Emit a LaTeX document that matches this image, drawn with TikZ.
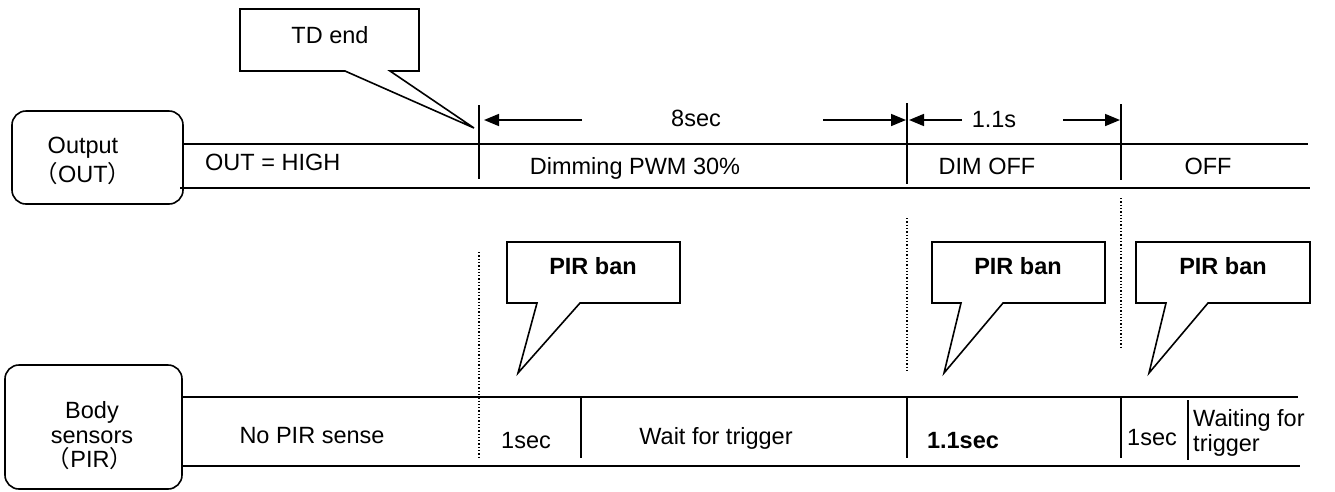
\documentclass[tikz,border=0pt]{standalone}
\usepackage{fontspec}
\setmainfont{Liberation Sans}
\newfontfamily\cjk{Noto Sans CJK SC}
\usetikzlibrary{arrows.meta}
\begin{document}
\begin{tikzpicture}[x=1pt,y=-1pt,
  wire/.style={line width=1.6pt},
  guide/.style={line width=1.3pt, dotted},
  dimarrow/.style={line width=1.6pt, -{Triangle[length=15pt,width=12pt]}},
  lbl/.style={inner sep=0pt, anchor=base, font=\fontsize{23.5}{27}\selectfont},
  lblw/.style={lbl, anchor=base west},
  boldlbl/.style={lbl, font=\fontsize{23.5}{27}\selectfont\bfseries},
  callout/.style={line width=1.6pt, fill=white, line join=miter},
  sigbox/.style={draw, line width=1.6pt, rounded corners=14pt, inner sep=0pt}
]
\useasboundingbox (0,0) rectangle (1335,491);

% ---------- signal name boxes ----------
\node[sigbox, minimum width=171pt, minimum height=93pt] (outbox) at (97.5,157.5) {};
\node[lbl] (outA) at (83,153) {Output};
\node[lbl] (outB) at (83,182) {{\cjk （}OUT{\cjk ）}};

\node[sigbox, minimum width=177pt, minimum height=124pt] (pirbox) at (93.5,427) {};
\node[lbl] (pirA) at (92,418) {Body};
\node[lbl] (pirB) at (92,443) {sensors};
\node[lbl] (pirC) at (90,467) {{\cjk （}PIR{\cjk ）}};

% ---------- output row ----------
\coordinate (oT0) at (183,144);  \coordinate (oT1) at (1308,144);
\coordinate (oB0) at (180,188);  \coordinate (oB1) at (1310,188);
\draw[wire] (oT0) -- (oT1);
\draw[wire] (oB0) -- (oB1);

\coordinate (t1a) at (479,105);  \coordinate (t1b) at (479,179);
\coordinate (t2a) at (907,103);  \coordinate (t2b) at (907,184);
\coordinate (t3a) at (1121,104); \coordinate (t3b) at (1121,180);
\draw[wire] (t1a) -- (t1b);
\draw[wire] (t2a) -- (t2b);
\draw[wire] (t3a) -- (t3b);

\node[lblw] (high) at (205,170) {OUT = HIGH};
\node[lbl] (pwm) at (635,174) {Dimming PWM 30\%};
\node[lbl] (dimoff) at (987,174) {DIM OFF};
\node[lbl] (off) at (1208,174) {OFF};

% ---------- duration arrows ----------
\node[lbl] (eight) at (696,126) {8sec};
\node[lbl] (onepone) at (994,127) {1.1s};
\coordinate (a1s) at (582,120);  \coordinate (a1e) at (484,120);
\coordinate (a2s) at (823,120);  \coordinate (a2e) at (906,120);
\coordinate (a3s) at (962,120);  \coordinate (a3e) at (909,120);
\coordinate (a4s) at (1063,120); \coordinate (a4e) at (1120,120);
\draw[dimarrow] (a1s) -- (a1e);
\draw[dimarrow] (a2s) -- (a2e);
\draw[dimarrow] (a3s) -- (a3e);
\draw[dimarrow] (a4s) -- (a4e);

% ---------- TD end callout ----------
\draw[callout] (240,9) -- (419,9) -- (419,71) -- (390,71) -- (474,128)
  -- (345,71) -- (240,71) -- cycle;
\node[lbl] (tdend) at (330,43) {TD end};

% ---------- dotted guides ----------
\coordinate (g1a) at (479,252);  \coordinate (g1b) at (479,457);
\coordinate (g2a) at (907,218);  \coordinate (g2b) at (907,370);
\coordinate (g3a) at (1121,198); \coordinate (g3b) at (1121,348);
\draw[guide] (g1a) -- (g1b);
\draw[guide] (g2a) -- (g2b);
\draw[guide] (g3a) -- (g3b);

% ---------- PIR ban callouts ----------
\draw[callout] (507,242) -- (680,242) -- (680,303) -- (580,303) -- (518,373)
  -- (537,303) -- (507,303) -- cycle;
\node[boldlbl] (ban1) at (593,274) {PIR ban};
\draw[callout] (932,242) -- (1105,242) -- (1105,303) -- (1003,303) -- (944,373)
  -- (961,303) -- (932,303) -- cycle;
\node[boldlbl] (ban2) at (1018,274) {PIR ban};
\draw[callout] (1136,242) -- (1310,242) -- (1310,303) -- (1208,303) -- (1149,373)
  -- (1166,303) -- (1136,303) -- cycle;
\node[boldlbl] (ban3) at (1223,274) {PIR ban};

% ---------- PIR row ----------
\coordinate (pT0) at (182,397);  \coordinate (pT1) at (1298,397);
\coordinate (pB0) at (182,466);  \coordinate (pB1) at (1300,466);
\draw[wire] (pT0) -- (pT1);
\draw[wire] (pB0) -- (pB1);

\coordinate (s1a) at (581,398);  \coordinate (s1b) at (581,458);
\coordinate (s2a) at (907,398);  \coordinate (s2b) at (907,458);
\coordinate (s3a) at (1121,398); \coordinate (s3b) at (1121,458);
\coordinate (s4a) at (1188,400); \coordinate (s4b) at (1188,460);
\draw[wire] (s1a) -- (s1b);
\draw[wire] (s2a) -- (s2b);
\draw[wire] (s3a) -- (s3b);
\draw[wire] (s4a) -- (s4b);

\node[lbl] (nosense) at (312,443) {No PIR sense};
\node[lbl] (sec1) at (526,448) {1sec};
\node[lbl] (wait) at (716,444) {Wait for trigger};
\node[boldlbl] (sec11) at (963,448) {1.1sec};
\node[lbl] (sec1b) at (1152,445) {1sec};
\node[lblw] (waitA) at (1193,426) {Waiting for};
\node[lblw] (waitB) at (1193,451) {trigger};
\end{tikzpicture}
\end{document}
